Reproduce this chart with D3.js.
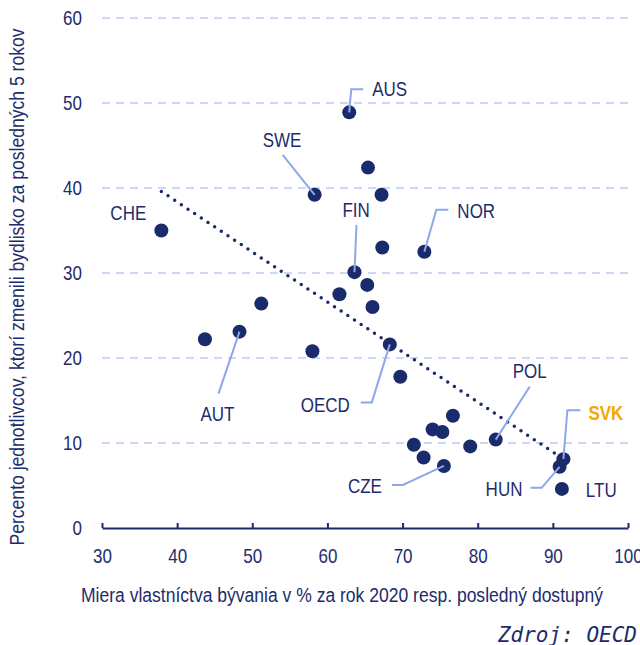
<!DOCTYPE html>
<html>
<head>
<meta charset="utf-8">
<script src="https://cdn.jsdelivr.net/npm/d3@7"></script>
<style>
  body { margin: 0; background: #fff; }
  svg text { font-family: "Liberation Sans", Arial, sans-serif; fill: #1d2c6c; }
</style>
</head>
<body>
<div id="chart"></div>
<script>
// ownership rate (x) vs. share of people who moved in last 5 years (y)
var codes = ["CHE", "", "AUT", "", "", "SWE", "", "AUS", "FIN", "", "", "", "", "", "OECD", "",
  "", "", "NOR", "", "", "CZE", "", "", "POL", "HUN", "LTU", "SVK"];
var ownership = [37.9, 43.7, 48.3, 51.2, 58.0, 58.3, 61.6, 62.9, 63.6, 65.3, 65.4, 66.0, 67.2, 67.3, 68.3, 69.7,
  71.5, 72.8, 72.9, 74.0, 75.3, 75.5, 76.7, 79.0, 82.4, 90.9, 91.2, 91.4];
var moved = [35.0, 22.2, 23.1, 26.4, 20.8, 39.2, 27.5, 48.9, 30.1, 28.6, 42.4, 26.0, 39.2, 33.0, 21.6, 17.8,
  9.8, 8.3, 32.5, 11.6, 11.3, 7.3, 13.2, 9.6, 10.4, 7.2, 4.6, 8.1];

// trend line end points
var trendX = [37.9, 91.6];
var trendY = [39.6, 8.0];

var xTicks = [30, 40, 50, 60, 70, 80, 90, 100];
var yTicks = [0, 10, 20, 30, 40, 50, 60];

var xTitle = "Miera vlastníctva bývania v % za rok 2020 resp. posledný dostupný";
var yTitle = "Percento jednotlivcov, ktorí zmenili bydlisko za posledných 5 rokov";
var source = "Zdroj: OECD";

// label placement (pixel offsets from the point), leader polylines
var labelLayout = {
  CHE:  { dx: -51, dy: -11 },
  AUT:  { dx: -39, dy: 89, leader: [[-21, 62], [0, 0]] },
  SWE:  { dx: -52, dy: -48, leader: [[-32, -40], [0, 0]] },
  AUS:  { dx: 23, dy: -16, leader: [[0, 0], [2, -23], [14, -23]] },
  FIN:  { dx: -12, dy: -55, leader: [[2, -47], [0, 0]] },
  NOR:  { dx: 33, dy: -34, leader: [[0, 0], [12, -42], [24, -42]] },
  OECD: { dx: -89, dy: 68, leader: [[-29, 58], [-18, 58], [0, 0]] },
  POL:  { dx: 17, dy: -62, leader: [[0, 0], [34, -53]] },
  SVK:  { dx: 25, dy: -39, leader: [[0, 0], [4, -49], [17, -49]], highlight: true },
  HUN:  { dx: -74, dy: 29, leader: [[-29, 21], [-18, 21], [0, 0]] },
  LTU:  { dx: 24, dy: 8 },
  CZE:  { dx: -96, dy: 27, leader: [[-52, 19], [-41, 19], [0, 0]] }
};

var width = 640, height = 645;
var navy = "#1a2b6b";
var narrow = 0.85; // squeeze Liberation Sans to look like a narrow face

var svg = d3.select("#chart").append("svg")
  .attr("width", width)
  .attr("height", height);

var x = d3.scaleLinear().domain([30, 100]).range([102, 628]);
var y = d3.scaleLinear().domain([0, 60]).range([528, 18]);

function squeezed(sel, fx, fy) {
  return sel.attr("transform", function (d, i) {
    return "translate(" + fx(d, i) + "," + fy(d, i) + ") scale(" + narrow + ",1)";
  });
}

// gridlines
svg.append("g")
  .selectAll("line")
  .data(yTicks.filter(function (d) { return d > 0; }))
  .enter()
  .append("line")
  .attr("x1", x(30))
  .attr("x2", x(100))
  .attr("y1", function (d) { return y(d); })
  .attr("y2", function (d) { return y(d); })
  .attr("stroke", "#cdd8f6")
  .attr("stroke-width", 2)
  .attr("stroke-dasharray", "8,6");

// y tick labels
svg.append("g")
  .selectAll("text")
  .data(yTicks)
  .enter()
  .append("text")
  .call(squeezed, function () { return 82; }, function (d) { return y(d); })
  .attr("dy", "0.35em")
  .attr("text-anchor", "end")
  .attr("font-size", 20)
  .text(function (d) { return d; });

// x axis
var xAxis = d3.axisBottom(x)
  .tickValues(xTicks)
  .tickSize(-5)
  .tickSizeOuter(0)
  .tickPadding(21);

var gx = svg.append("g")
  .attr("transform", "translate(0," + y(0) + ")")
  .call(xAxis);
gx.select(".domain").attr("stroke", navy).attr("stroke-width", 2);
gx.selectAll(".tick line").attr("stroke", navy).attr("stroke-width", 2);
gx.selectAll(".tick text")
  .attr("font-size", 20)
  .attr("fill", "#1d2c6c")
  .attr("font-family", "Liberation Sans, Arial, sans-serif")
  .attr("transform", "scale(" + narrow + ",1)");

// axis titles
svg.append("text")
  .attr("x", 342)
  .attr("y", 602)
  .attr("text-anchor", "middle")
  .attr("font-size", 20)
  .attr("textLength", 522)
  .attr("lengthAdjust", "spacingAndGlyphs")
  .text(xTitle);

svg.append("text")
  .attr("transform", "translate(24,287) rotate(-90)")
  .attr("text-anchor", "middle")
  .attr("font-size", 20)
  .attr("textLength", 517)
  .attr("lengthAdjust", "spacingAndGlyphs")
  .text(yTitle);

// points
var points = d3.range(codes.length).map(function (i) {
  return { code: codes[i], x: ownership[i], y: moved[i] };
});

svg.append("g")
  .selectAll("circle")
  .data(points)
  .enter()
  .append("circle")
  .attr("cx", function (d) { return x(d.x); })
  .attr("cy", function (d) { return y(d.y); })
  .attr("r", 7)
  .attr("fill", navy);

// trend line (dotted)
svg.append("line")
  .attr("x1", x(trendX[0]))
  .attr("y1", y(trendY[0]))
  .attr("x2", x(trendX[1]))
  .attr("y2", y(trendY[1]))
  .attr("stroke", navy)
  .attr("stroke-width", 3.5)
  .attr("stroke-linecap", "round")
  .attr("stroke-dasharray", "0,8");

// labels + leader lines
var labelled = points.filter(function (d) { return d.code !== ""; });
var line = d3.line();

svg.append("g")
  .selectAll("path")
  .data(labelled.filter(function (d) { return labelLayout[d.code].leader; }))
  .enter()
  .append("path")
  .attr("d", function (d) {
    var px = x(d.x), py = y(d.y);
    return line(labelLayout[d.code].leader.map(function (p) { return [px + p[0], py + p[1]]; }));
  })
  .attr("fill", "none")
  .attr("stroke", "#8ea7ea")
  .attr("stroke-width", 2);

svg.append("g")
  .selectAll("text")
  .data(labelled)
  .enter()
  .append("text")
  .call(squeezed,
    function (d) { return x(d.x) + labelLayout[d.code].dx; },
    function (d) { return y(d.y) + labelLayout[d.code].dy; })
  .attr("font-size", 20)
  .attr("font-weight", function (d) { return labelLayout[d.code].highlight ? "bold" : "normal"; })
  .style("fill", function (d) { return labelLayout[d.code].highlight ? "#f7a600" : "#1d2c6c"; })
  .text(function (d) { return d.code; });

// source note
svg.append("text")
  .attr("x", 637)
  .attr("y", 642)
  .attr("text-anchor", "end")
  .attr("font-size", 21)
  .attr("font-style", "italic")
  .style("font-family", "DejaVu Sans Mono, monospace")
  .text(source);
</script>
</body>
</html>
